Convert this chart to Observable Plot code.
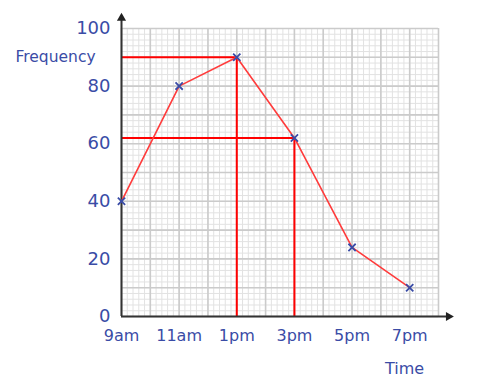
<!DOCTYPE html>
<html>
<head>
<meta charset="utf-8">
<script src="https://cdn.jsdelivr.net/npm/d3@7"></script>
<script src="https://cdn.jsdelivr.net/npm/@observablehq/plot@0.6"></script>
<style>
  html, body { margin: 0; padding: 0; background: #fff; }
</style>
</head>
<body>
<div id="chart"></div>
<script>
// ---- data ----
const timeLabels = ["9am", "11am", "1pm", "3pm", "5pm", "7pm"];
const hours = [9, 11, 13, 15, 17, 19];
const frequency = [40, 80, 90, 62, 24, 10];
const yTicks = [0, 20, 40, 60, 80, 100];
// reading lines drawn on the graph
const readHours = [13, 15];
const readValues = [90, 62];

const points = hours.map((h, i) => ({hour: h, freq: frequency[i], label: timeLabels[i]}));
const readings = readHours.map((h, i) => ({hour: h, freq: readValues[i]}));

const xMin = 9, xMax = 20, yMin = 0, yMax = 100;
const minorX = d3.range(0, 56).map(i => xMin + i * 0.2);
const majorX = d3.range(xMin, xMax + 1);
const minorY = d3.range(0, 51).map(i => i * 2);
const majorY = d3.range(0, 101, 10);

const blue = "#3a4ca6";
const axisColor = "#333";
const font = "'Comic Sans MS', 'DejaVu Sans', sans-serif";

const chart = Plot.plot({
  width: 487,
  height: 383,
  marginLeft: 121,
  marginRight: 49,
  marginTop: 28,
  marginBottom: 67,
  x: {type: "linear", domain: [xMin, xMax]},
  y: {type: "linear", domain: [yMin, yMax]},
  style: {fontFamily: font, color: blue, background: "#fff", overflow: "visible"},
  marks: [
    Plot.gridX(minorX, {stroke: "#e2e2e2", strokeOpacity: 1, strokeWidth: 1}),
    Plot.gridY(minorY, {stroke: "#e2e2e2", strokeOpacity: 1, strokeWidth: 1}),
    Plot.gridX(majorX, {stroke: "#cbcbcb", strokeOpacity: 1, strokeWidth: 1.6}),
    Plot.gridY(majorY, {stroke: "#cbcbcb", strokeOpacity: 1, strokeWidth: 1.6}),
    // reading lines
    Plot.ruleY(readings, {y: "freq", x1: xMin, x2: "hour", stroke: "#ff0000", strokeWidth: 2}),
    Plot.ruleX(readings, {x: "hour", y1: yMin, y2: "freq", stroke: "#ff0000", strokeWidth: 2}),
    // axes lines with arrows
    Plot.ruleX([xMin], {y1: yMin, y2: yMax + 3.2, stroke: axisColor, strokeWidth: 2}),
    Plot.ruleY([yMin], {x1: xMin, x2: xMax + 0.3, stroke: axisColor, strokeWidth: 2}),
    Plot.dot([xMin], {x: d => d, y: yMax + 3.6, symbol: "triangle", r: 3.4, fill: "#222", stroke: "none"}),
    Plot.dot([xMax + 0.35], {x: d => d, y: yMin, symbol: "triangle", r: 3.4, fill: "#222", stroke: "none", rotate: 90}),
    // data
    Plot.line(points, {x: "hour", y: "freq", stroke: "#ff3b3b", strokeWidth: 1.6}),
    Plot.dot(points, {x: "hour", y: "freq", symbol: "times", r: 3.4, stroke: blue, strokeWidth: 1.8}),
    // axes labels
    Plot.axisY({ticks: yTicks, tickSize: 0, tickPadding: 11, fontSize: 18, label: null, fill: blue}),
    Plot.axisX({ticks: hours, tickFormat: d => timeLabels[hours.indexOf(d)], tickSize: 0, tickPadding: 13, fontSize: 16, label: null, fill: blue}),
    Plot.text(["Frequency"], {frameAnchor: "top-left", textAnchor: "start", lineAnchor: "middle", dx: -106, dy: 29, fontSize: 15.5, fill: blue}),
    Plot.text(["Time"], {frameAnchor: "bottom-right", textAnchor: "middle", lineAnchor: "middle", dx: -34, dy: 52, fontSize: 16, fill: blue})
  ]
});
document.getElementById("chart").appendChild(chart);
</script>
</body>
</html>
